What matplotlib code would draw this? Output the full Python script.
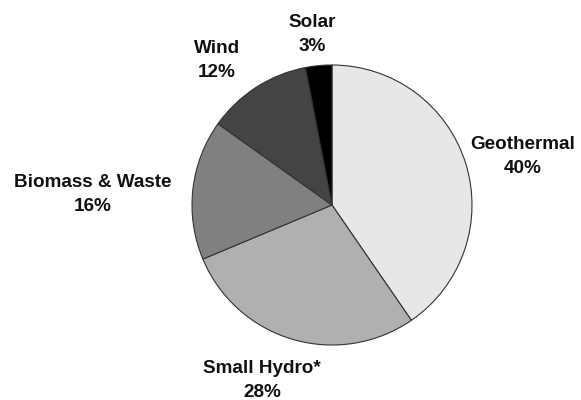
import matplotlib
matplotlib.use("Agg")
import matplotlib.pyplot as plt

sources = ["Geothermal", "Small Hydro*", "Biomass & Waste", "Wind", "Solar"]
shares = [40, 28, 16, 12, 3]
colors = ["#e7e7e7", "#b0b0b0", "#808080", "#444444", "#000000"]

# label anchor points (pixel space of the figure)
label_xy = [(523, 243.5), (262, 19.5), (93, 205.5), (217, 339.5), (312, 365.5)]

W, H = 581, 400
fig = plt.figure(figsize=(W / 100, H / 100), dpi=100)
ax = fig.add_axes([0, 0, 1, 1])

ax.pie(shares, colors=colors, startangle=90, counterclock=False,
       radius=140, center=(332, 195), frame=True,
       wedgeprops=dict(edgecolor="#333333", linewidth=0.8))
ax.set_xlim(0, W)
ax.set_ylim(0, H)
ax.set_aspect("equal")
ax.axis("off")

for name, val, (x, y) in zip(sources, shares, label_xy):
    ax.text(x, y, f"{name}\n{val}%", ha="center", va="center",
            fontsize=13.6, fontweight="bold", family="Liberation Sans",
            linespacing=1.5, color="#111111")

fig.savefig("out.png", dpi=100)
